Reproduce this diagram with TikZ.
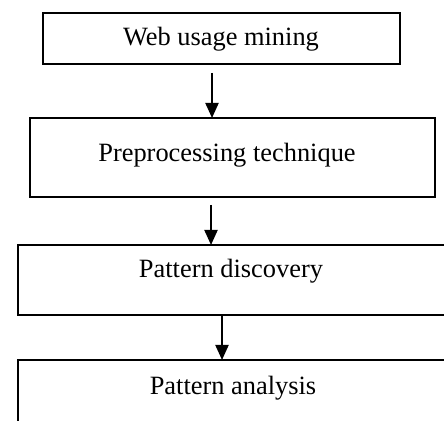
\documentclass[tikz,border=0pt]{standalone}
\usepackage{fontspec}
\setmainfont{Liberation Serif}
\usetikzlibrary{arrows.meta,fit}
\tikzset{
  boxnode/.style={draw=black, line width=1pt, rectangle, inner sep=0pt, outer sep=0pt},
  lbl/.style={font=\fontsize{13.2pt}{15pt}\selectfont, inner sep=0pt},
  arr/.style={line width=1pt, -{Triangle[width=6.5pt,length=7.5pt]}}
}
\begin{document}
\begin{tikzpicture}[x=0.5pt,y=-0.5pt]
\useasboundingbox (0,0) rectangle (444,421);
% box corners
\coordinate (b1nw) at (43,13);  \coordinate (b1se) at (400,64);
\coordinate (b2nw) at (30,118); \coordinate (b2se) at (435,197);
\coordinate (b3nw) at (18,245); \coordinate (b3se) at (452,315);
\coordinate (b4nw) at (18,360); \coordinate (b4se) at (452,430);
% boxes
\node[boxnode, fit=(b1nw)(b1se)] (b1) {};
\node[boxnode, fit=(b2nw)(b2se)] (b2) {};
\node[boxnode, fit=(b3nw)(b3se)] (b3) {};
\node[boxnode, fit=(b4nw)(b4se)] (b4) {};
% texts
\node[lbl] (t1) at (221,39) {Web usage mining};
\node[lbl] (t2) at (227,155) {Preprocessing technique};
\node[lbl] (t3) at (231,271) {Pattern discovery};
\node[lbl] (t4) at (233,388) {Pattern analysis};
% arrow x positions
\coordinate (x1) at (212,0);
\coordinate (x2) at (211,0);
\coordinate (x3) at (222,0);
% arrows
\draw[arr, shorten <=4.5pt] (b1.south -| x1) -- (b2.north -| x1);
\draw[arr, shorten <=4pt] (b2.south -| x2) -- (b3.north -| x2);
\draw[arr] (b3.south -| x3) -- (b4.north -| x3);
\end{tikzpicture}
\end{document}
